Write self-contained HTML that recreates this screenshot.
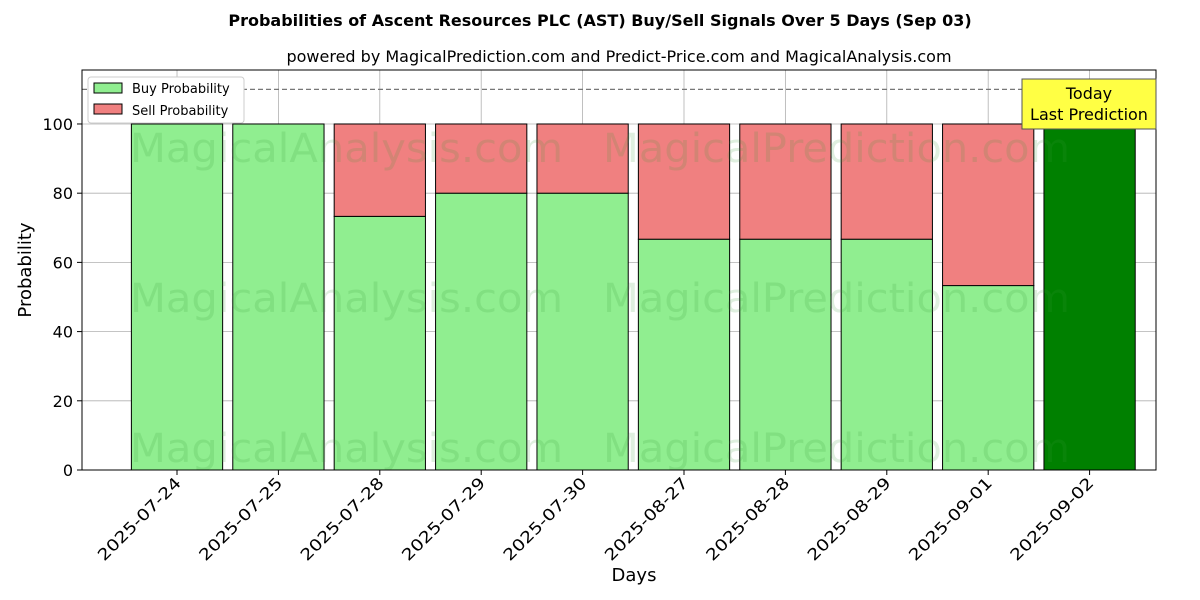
<!DOCTYPE html>
<html><head><meta charset="utf-8"><style>body{margin:0;background:#fff}svg{display:block;font-family:"DejaVu Sans","Liberation Sans",sans-serif}</style></head>
<body>
<svg id="chart" width="1200" height="600" xmlns="http://www.w3.org/2000/svg">
<rect width="1200" height="600" fill="#fff"/>
<text x="600" y="26" text-anchor="middle" font-size="16" font-weight="bold">Probabilities of Ascent Resources PLC (AST) Buy/Sell Signals Over 5 Days (Sep 03)</text>
<text x="619" y="62" text-anchor="middle" font-size="16">powered by MagicalPrediction.com and Predict-Price.com and MagicalAnalysis.com</text>
<g id="grid"></g>
<g id="bars"></g>
<g id="wm" font-size="40" fill="#3a9a3a" fill-opacity="0.16">
<text x="130" y="162" textLength="433" lengthAdjust="spacingAndGlyphs">MagicalAnalysis.com</text>
<text x="603" y="162" textLength="467" lengthAdjust="spacingAndGlyphs">MagicalPrediction.com</text>
<text x="130" y="312" textLength="433" lengthAdjust="spacingAndGlyphs">MagicalAnalysis.com</text>
<text x="603" y="312" textLength="467" lengthAdjust="spacingAndGlyphs">MagicalPrediction.com</text>
<text x="130" y="462" textLength="433" lengthAdjust="spacingAndGlyphs">MagicalAnalysis.com</text>
<text x="603" y="462" textLength="467" lengthAdjust="spacingAndGlyphs">MagicalPrediction.com</text>
</g>
<line x1="82" x2="1156" y1="89.4" y2="89.4" stroke="#777" stroke-dasharray="5,3" stroke-width="1.2"/>
<rect x="82" y="70" width="1074" height="400" fill="none" stroke="#000"/>
<g id="axes" font-size="15"></g>
<text x="634" y="581" text-anchor="middle" font-size="18">Days</text>
<text transform="translate(31,270) rotate(-90)" text-anchor="middle" font-size="18">Probability</text>
<g>
<rect x="88" y="77" width="156" height="46" fill="#fff" stroke="#ccc" rx="3"/>
<rect x="94" y="83" width="28" height="10" fill="#90ee90" stroke="#000"/>
<text x="132" y="93" font-size="13">Buy Probability</text>
<rect x="94" y="104" width="28" height="10" fill="#f08080" stroke="#000"/>
<text x="132" y="115" font-size="13">Sell Probability</text>
</g>
<g>
<rect x="1022" y="79" width="134" height="50" fill="#ffff44" stroke="#555"/>
<text x="1089" y="99" text-anchor="middle" font-size="16">Today</text>
<text x="1089" y="120" text-anchor="middle" font-size="16">Last Prediction</text>
</g>
</svg>
<script>
const categories=["2025-07-24","2025-07-25","2025-07-28","2025-07-29","2025-07-30","2025-08-27","2025-08-28","2025-08-29","2025-09-01","2025-09-02"];
const buyValues=[100,100,73.3,80,80,66.7,66.7,66.7,53.3,100];
const sellValues=[0,0,26.7,20,20,33.3,33.3,33.3,46.7,0];
const yTicks=[0,20,40,60,80,100];
const NS="http://www.w3.org/2000/svg";
const x0=82,x1=1156,y0=470,y1=70,xmin=-0.937,xmax=9.655,ymin=0,ymax=115.6;
const xs=i=>x0+(i-xmin)/(xmax-xmin)*(x1-x0);
const ys=v=>y0-(v-ymin)/(ymax-ymin)*(y0-y1);
const bw=(x1-x0)/(xmax-xmin)*0.9;
function mk(t,a,p){const e=document.createElementNS(NS,t);for(const k in a)e.setAttribute(k,a[k]);p.appendChild(e);return e;}
const grid=document.getElementById('grid'),bars=document.getElementById('bars'),axes=document.getElementById('axes');
yTicks.forEach(v=>{const y=ys(v);
const g=mk('line',{x1:x0,x2:x1,y1:y,y2:y,stroke:'#b0b0b0','stroke-width':0.8},grid);


mk('line',{x1:x0-5,x2:x0,y1:y,y2:y,stroke:'#000'},axes);
const t=mk('text',{x:x0-9,y:y+6,'text-anchor':'end','font-size':16},axes);t.textContent=v;


});
categories.forEach((c,i)=>{const x=xs(i);
const g=mk('line',{x1:x,x2:x,y1:y1,y2:y0,stroke:'#b0b0b0','stroke-width':0.8},grid);


const last=i===categories.length-1;
const b=mk('rect',{x:x-bw/2,y:ys(buyValues[i]),width:bw,height:ys(0)-ys(buyValues[i]),fill:last?'#008000':'#90ee90',stroke:'#000','stroke-width':1},bars);


if(sellValues[i]>0){const s=mk('rect',{x:x-bw/2,y:ys(buyValues[i]+sellValues[i]),width:bw,height:ys(buyValues[i])-ys(buyValues[i]+sellValues[i]),fill:'#f08080',stroke:'#000','stroke-width':1},bars);

}
mk('line',{x1:x,x2:x,y1:y0,y2:y0+5,stroke:'#000'},axes);
const t=mk('text',{transform:`translate(${x+5},${y0+14}) rotate(-45)`,'text-anchor':'end','font-size':16,textLength:110,lengthAdjust:'spacingAndGlyphs'},axes);t.textContent=c;


});
</script>
</body></html>
